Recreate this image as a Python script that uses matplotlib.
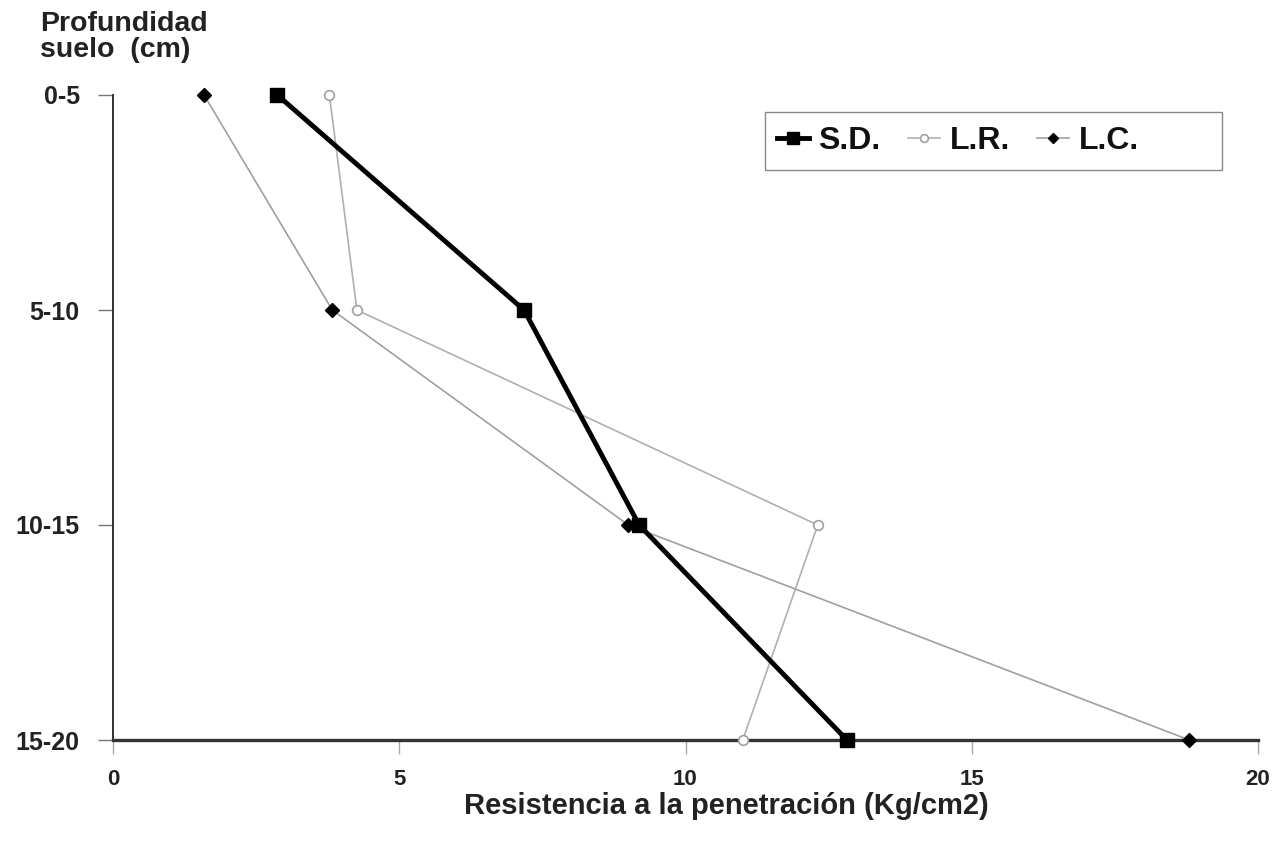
import matplotlib
matplotlib.use("Agg")
import matplotlib.pyplot as plt
from matplotlib.patches import Rectangle

depths = ["0-5", "5-10", "10-15", "15-20"]
sd = [2.87, 7.18, 9.19, 12.82]
lr = [3.78, 4.26, 12.31, 11.0]
lc = [1.59, 3.83, 9.0, 18.8]
xticks = [0, 5, 10, 15, 20]

plt.rcParams['font.family'] = ['Liberation Sans', 'DejaVu Sans']
plt.rcParams['font.weight'] = 'bold'

W, H = 1279, 852
fig = plt.figure(figsize=(W/100, H/100), dpi=100)
ax = fig.add_axes([113/W, 1-740/H, (1258-113)/W, (740-95)/H])

ypos = list(range(len(depths)))
ax.plot(lr, ypos, color='#b0b0b0', lw=1.2, marker='o', ms=7, mfc='white',
        mec='#a0a0a0', mew=1.2, label='L.R.', zorder=3, clip_on=False)
ax.plot(lc, ypos, color='#a0a0a0', lw=1.2, marker='D', ms=7, mfc='black',
        mec='black', label='L.C.', zorder=4, clip_on=False)
ax.plot(sd, ypos, color='black', lw=3.5, marker='s', ms=10, mfc='black',
        mec='black', label='S.D.', zorder=5, clip_on=False)

ax.set_xlim(0, 20)
ax.set_ylim(3, 0)
ax.set_yticks(ypos)
ax.set_yticklabels(depths)
ax.set_xticks(xticks)
ax.set_xticklabels([str(v) for v in xticks])

for s in ['top', 'right']:
    ax.spines[s].set_visible(False)
ax.spines['left'].set_linewidth(1.3)
ax.spines['left'].set_color('#222222')
ax.spines['bottom'].set_linewidth(2.4)
ax.spines['bottom'].set_color('#333333')

ax.tick_params(axis='x', direction='out', length=10, width=1, color='#aaaaaa',
               labelsize=16, pad=11, labelcolor='#222222')
ax.tick_params(axis='y', direction='out', length=11, width=1, color='#777777',
               labelsize=18, pad=13, labelcolor='#222222')

ax.set_xlabel('Resistencia a la penetración (Kg/cm2)', fontsize=21,
              color='#222222', fontweight='bold')
ax.xaxis.set_label_coords((726-113)/(1258-113), -(806-740)/(740-95))
ax.xaxis.label.set_va('center')

fig.text(40/W, 1-11/H, 'Profundidad\nsuelo  (cm)', fontsize=20.5,
         color='#222222', ha='left', va='top', linespacing=1.0,
         fontweight='bold')

handles, labels = ax.get_legend_handles_labels()
order = [2, 0, 1]
leg = ax.legend([handles[i] for i in order], [labels[i] for i in order],
                loc='center left', bbox_to_anchor=(777/W, 1-141/H),
                bbox_transform=fig.transFigure, ncol=3,
                prop={'size': 23, 'weight': 'bold'},
                frameon=False, borderpad=0.0, borderaxespad=0.0,
                handlelength=1.0, handletextpad=0.3, columnspacing=0.85,
                markerscale=0.8)
for t in leg.get_texts():
    t.set_color('#111111')
fig.patches.append(Rectangle((765/W, 1-170/H), (1222-765)/W, (170-112)/H,
                             transform=fig.transFigure, fill=False,
                             edgecolor='#888888', lw=1.0))

fig.savefig('out.png', dpi=100, facecolor='white')
